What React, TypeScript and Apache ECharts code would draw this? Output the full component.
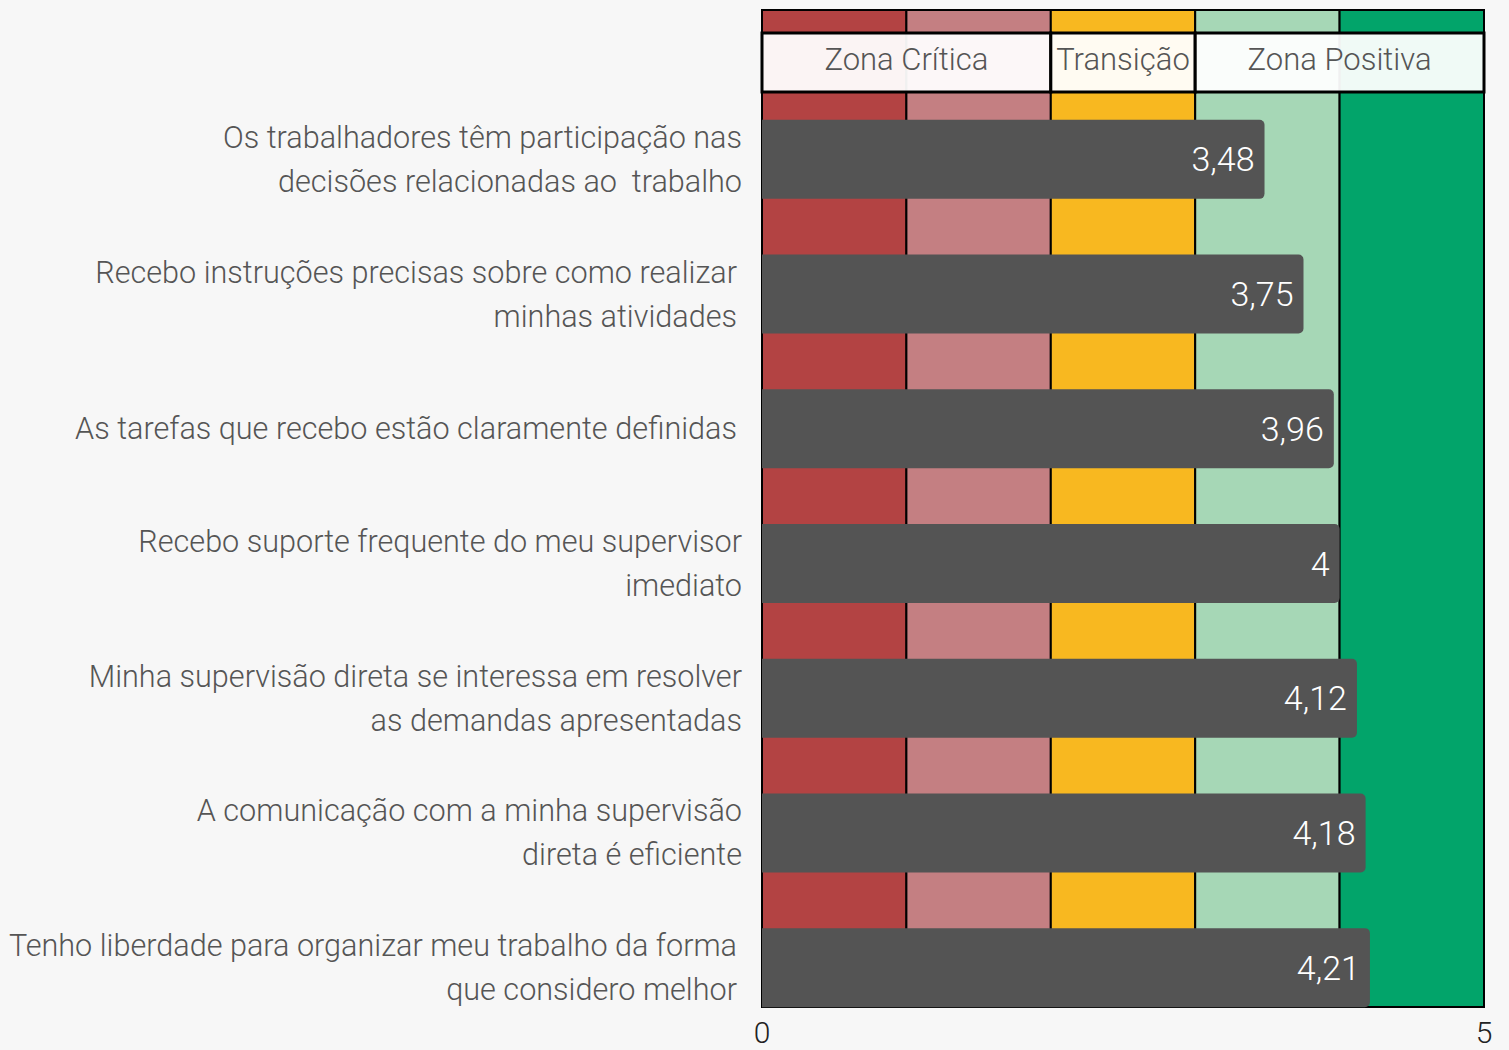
import React, { useEffect, useRef } from 'react';
import * as echarts from 'echarts';

const categories = [
  'Os trabalhadores têm participação nas\ndecisões relacionadas ao  trabalho',
  'Recebo instruções precisas sobre como realizar\nminhas atividades',
  'As tarefas que recebo estão claramente definidas',
  'Recebo suporte frequente do meu supervisor\nimediato',
  'Minha supervisão direta se interessa em resolver\nas demandas apresentadas',
  'A comunicação com a minha supervisão\ndireta é eficiente',
  'Tenho liberdade para organizar meu trabalho da forma\nque considero melhor',
];
const values = [3.48, 3.75, 3.96, 4, 4.12, 4.18, 4.21];
const scaleMin = 0;
const scaleMax = 5;
const bandEdges = [0, 1, 2, 3, 4, 5];
const bandColors = ['#b34343', '#c47f82', '#f8b820', '#a6d7b6', '#02a46a'];
const zoneNames = ['Zona Crítica', 'Transição', 'Zona Positiva'];
const zoneEdges = [
  [0, 2],
  [2, 3],
  [3, 5],
];

export default function App() {
  const ref = useRef<HTMLDivElement>(null);
  useEffect(() => {
    const chart = echarts.init(ref.current!, null, { renderer: 'svg' });
    const font = 'Roboto';
    const labelStyle = { color: '#555', fontSize: 30.6, lineHeight: 44, fontFamily: font, fontWeight: 300 };
    const shifted = [1, 2, 6];
    chart.setOption({
      animation: false,
      backgroundColor: '#f7f7f7',
      grid: [
        { left: 762, right: 25, top: 10, bottom: 43, outerBoundsMode: 'none' },
        { left: 762, right: 25, top: 92, bottom: 15, outerBoundsMode: 'none' },
        { left: 762, right: 25, top: 33, height: 59, outerBoundsMode: 'none' },
      ],
      xAxis: [
        {
          gridIndex: 0,
          type: 'value',
          min: scaleMin,
          max: scaleMax,
          interval: scaleMax - scaleMin,
          axisLine: { show: false },
          axisTick: { show: false },
          splitLine: { show: false },
          axisLabel: { fontSize: 30, color: '#222', fontFamily: font, fontWeight: 300, margin: 10 },
        },
        { gridIndex: 1, type: 'value', min: scaleMin, max: scaleMax, show: false },
        { gridIndex: 2, type: 'value', min: scaleMin, max: scaleMax, show: false },
      ],
      yAxis: [
        { gridIndex: 0, type: 'value', min: 0, max: 1, show: false },
        {
          gridIndex: 1,
          type: 'category',
          data: categories,
          inverse: true,
          axisLine: { show: false },
          axisTick: { show: false },
          splitLine: { show: false },
          axisLabel: {
            ...labelStyle,
            margin: 20,
            formatter: (v: string, i: number) =>
              shifted.includes(i) ? v.split('\n').map((l) => `{s|${l}}`).join('\n') : v,
            rich: { s: { ...labelStyle, padding: [0, 5, 0, 0] } },
          },
        },
        { gridIndex: 2, type: 'value', min: 0, max: 1, show: false },
      ],
      series: [
        {
          type: 'line',
          xAxisIndex: 0,
          yAxisIndex: 0,
          data: [],
          silent: true,
          markArea: {
            silent: true,
            itemStyle: { borderColor: '#000', borderWidth: 2 },
            data: bandColors.map((c, i) => [
              { xAxis: bandEdges[i], itemStyle: { color: c, borderColor: '#000', borderWidth: 2 } },
              { xAxis: bandEdges[i + 1] },
            ]),
          },
        },
        {
          type: 'bar',
          xAxisIndex: 1,
          yAxisIndex: 1,
          data: values,
          barWidth: 79,
          itemStyle: { color: '#545454', borderRadius: [0, 5, 5, 0] },
          label: {
            show: true,
            position: 'insideRight',
            distance: 10,
            color: '#fff',
            fontSize: 34,
            fontFamily: font,
            fontWeight: 300,
            formatter: (p: any) => String(p.value).replace('.', ','),
          },
        },
        {
          type: 'line',
          xAxisIndex: 2,
          yAxisIndex: 2,
          data: [],
          silent: true,
          markArea: {
            silent: true,
            itemStyle: { color: 'rgba(255,255,255,0.94)', borderColor: '#000', borderWidth: 3 },
            label: {
              show: true,
              position: 'inside',
              offset: [0, -3],
              color: '#555',
              fontSize: 31,
              fontFamily: font,
              fontWeight: 300,
            },
            data: zoneNames.map((n, i) => [
              { name: n, xAxis: zoneEdges[i][0] },
              { xAxis: zoneEdges[i][1] },
            ]),
          },
        },
      ],
    });
    return () => chart.dispose();
  }, []);
  return <div ref={ref} style={{ position: 'absolute', left: 0, top: 0, width: 1509, height: 1050 }} />;
}
